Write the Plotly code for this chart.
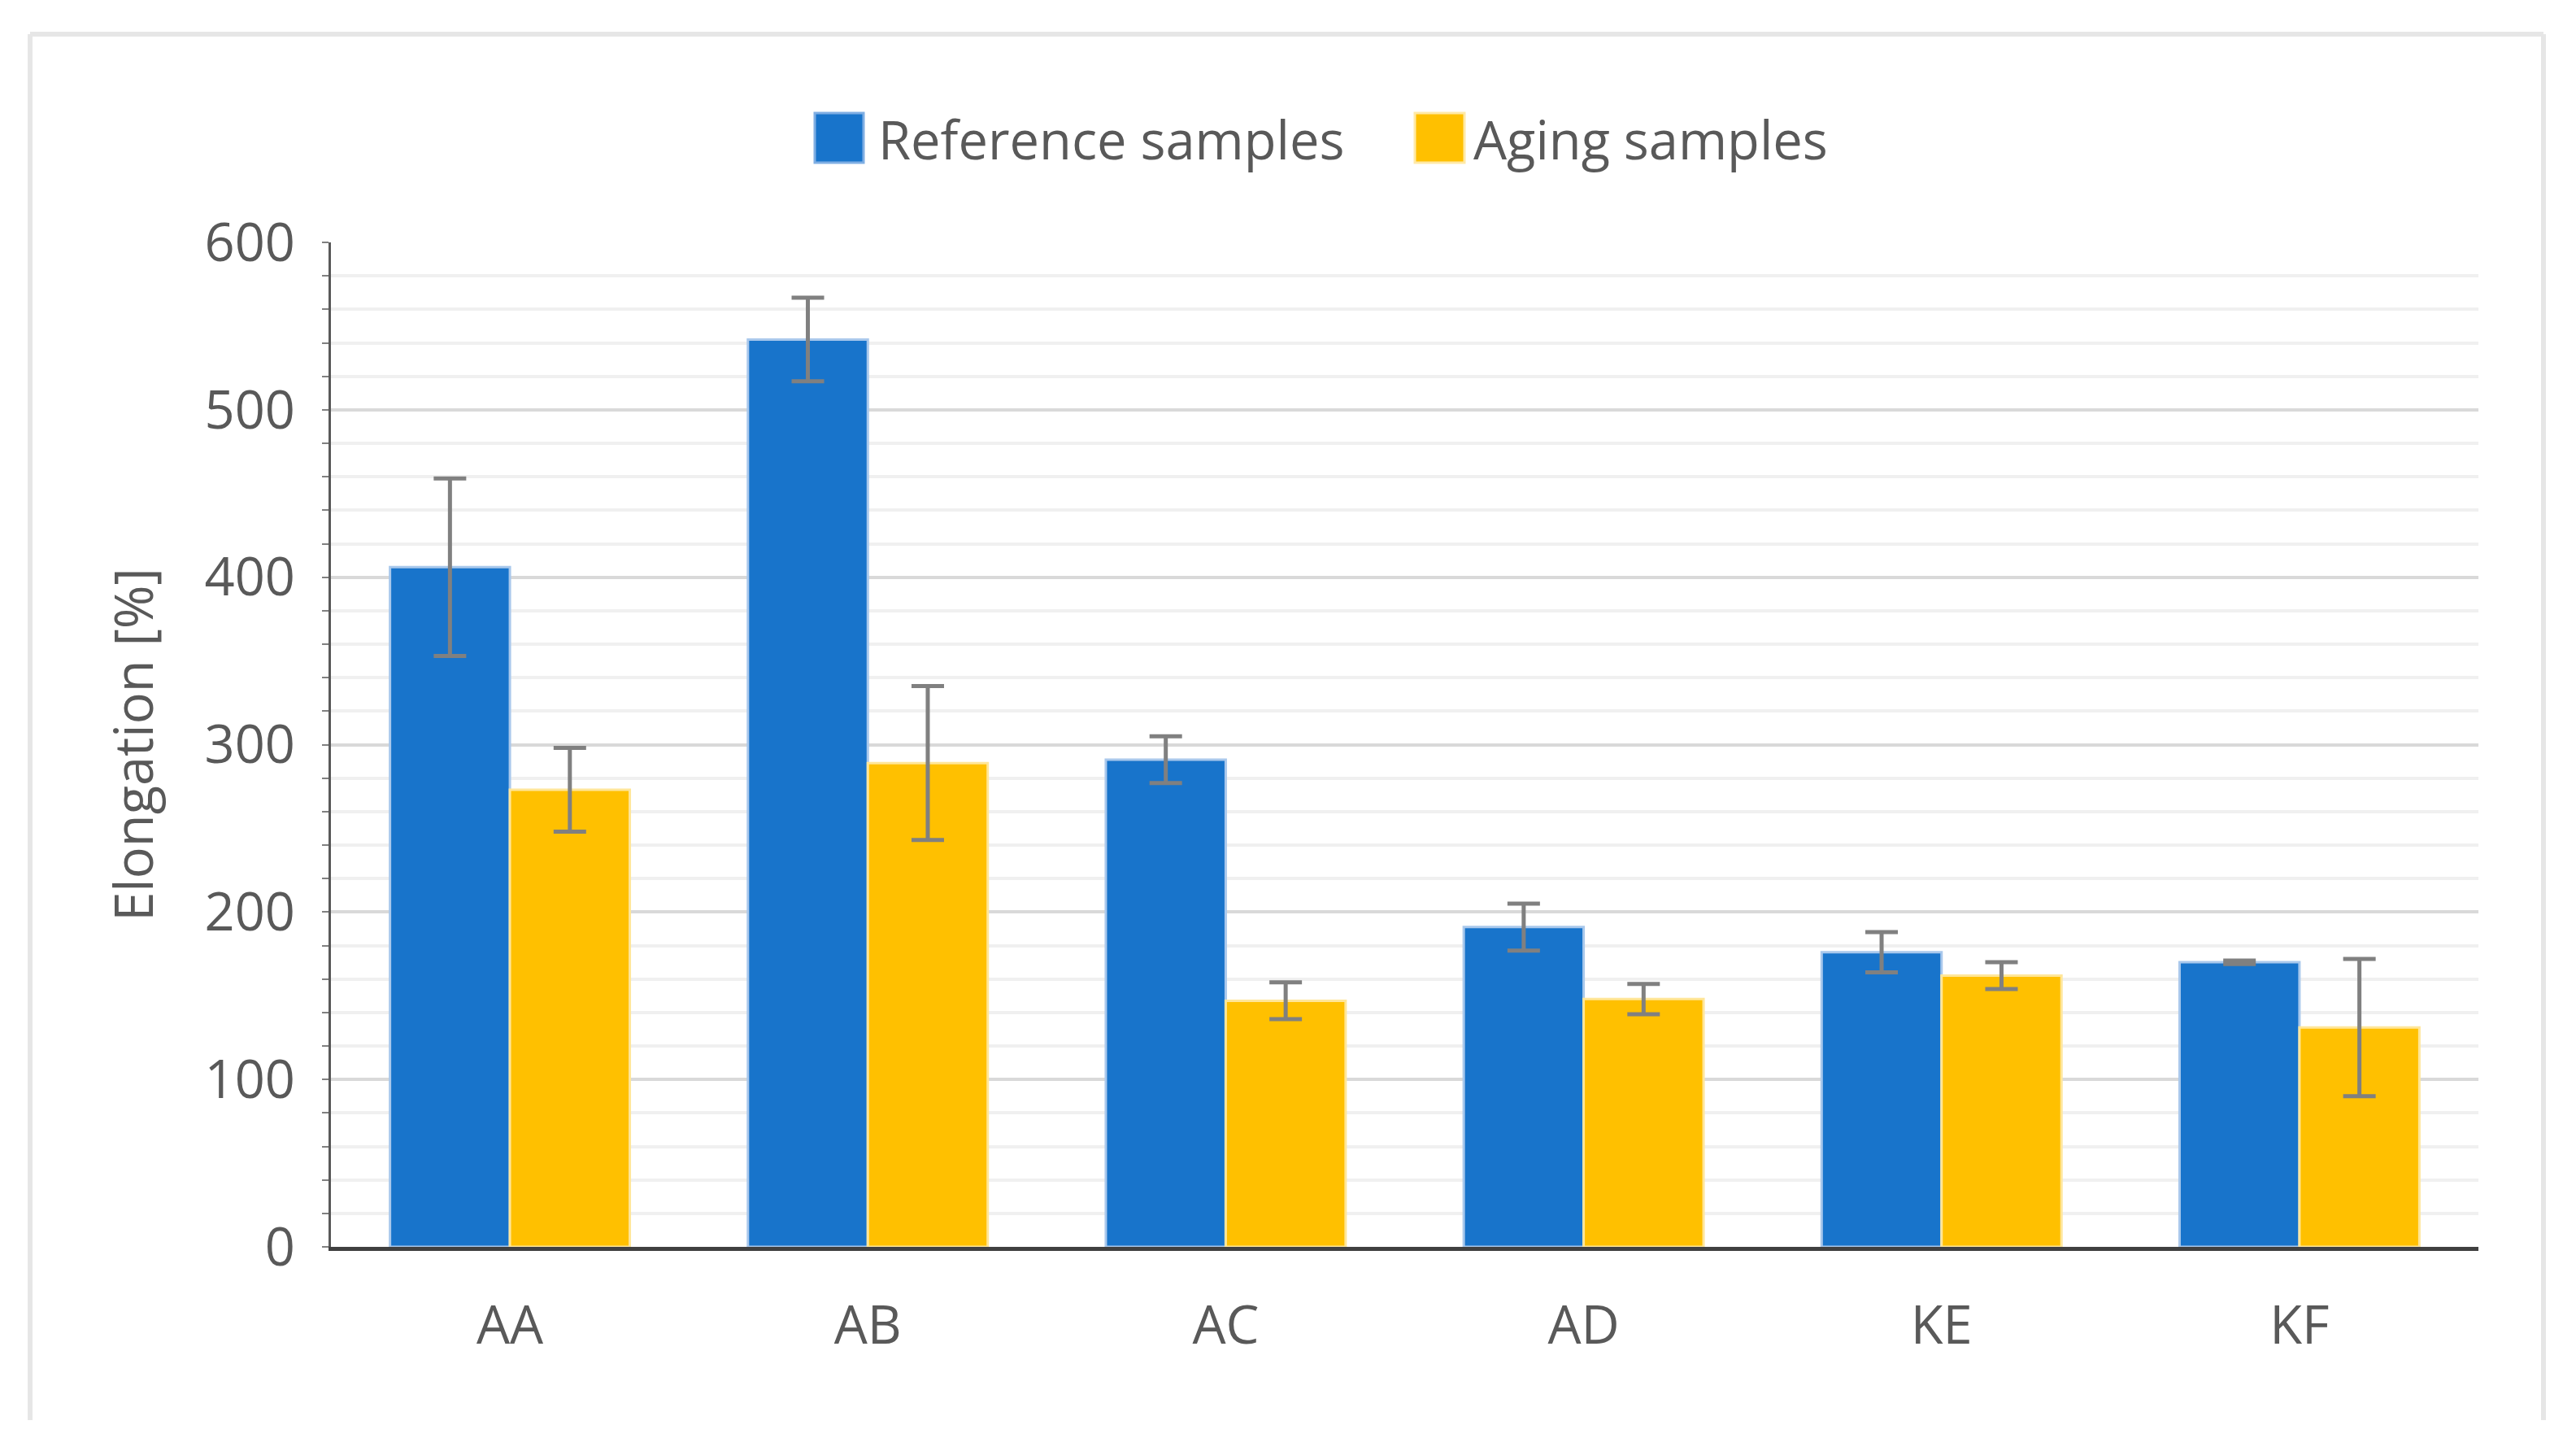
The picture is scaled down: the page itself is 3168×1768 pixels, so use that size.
import plotly.graph_objects as go

categories = ["AA", "AB", "AC", "AD", "KE", "KF"]
reference_values = [406, 542, 291, 191, 176, 170]
reference_errors = [53, 25, 14, 14, 12, 1]
aging_values = [273, 289, 147, 148, 162, 131]
aging_errors = [25, 46, 11, 9, 8, 41]
series_names = ["Reference samples", "Aging samples"]
y_ticks = [0, 100, 200, 300, 400, 500, 600]

BLUE = "#1874CB"
YELLOW = "#FFC000"
FONT = "Open Sans"
TXT = "#595959"
FS = 65

fig = go.Figure()
fig.add_trace(go.Bar(
    x=categories, y=reference_values, name=series_names[0],
    marker=dict(color=BLUE, line=dict(color="#A9C8EC", width=3)),
    error_y=dict(type="data", array=reference_errors, color="#808080", thickness=5, width=20),
    showlegend=False,
))
fig.add_trace(go.Bar(
    x=categories, y=aging_values, name=series_names[1],
    marker=dict(color=YELLOW, line=dict(color="#FFE699", width=3)),
    error_y=dict(type="data", array=aging_errors, color="#808080", thickness=5, width=20),
    showlegend=False,
))

W, H = 3168, 1768
L, R, T, B = 399, 3040, 290, 1525
pw, ph = R - L, B - T

def px(X):
    return (X - L) / pw

def py(Y):
    return (B - Y) / ph

# legend swatches and labels
legend_items = [(994, 1054, 1070, series_names[0], BLUE, "#7FAEE3"),
                (1732, 1793, 1802, series_names[1], YELLOW, "#FFE9A6")]
shapes = []
annotations = []
for x0, x1, xt, name, col, edge in legend_items:
    shapes.append(dict(type="rect", xref="paper", yref="paper", x0=px(x0), x1=px(x1),
                       y0=py(192), y1=py(131), fillcolor=col, line=dict(color=edge, width=3),
                       layer="above"))
    annotations.append(dict(xref="paper", yref="paper", x=px(xt), y=py(163), text=name,
                            showarrow=False, xanchor="left", yanchor="middle",
                            font=dict(family=FONT, size=FS, color=TXT)))
# outer frame (left, top, right)
FR = dict(color="#E6E6E6", width=6)
shapes.append(dict(type="line", xref="paper", yref="paper", x0=px(29), x1=px(29), y0=py(1738), y1=py(34), line=FR, layer="below"))
shapes.append(dict(type="line", xref="paper", yref="paper", x0=px(29), x1=px(3120), y0=py(34), y1=py(34), line=FR, layer="below"))
shapes.append(dict(type="line", xref="paper", yref="paper", x0=px(3120), x1=px(3120), y0=py(1738), y1=py(34), line=FR, layer="below"))

fig.update_layout(
    width=W, height=H,
    margin=dict(l=L, r=W - R, t=T, b=H - B, pad=0),
    paper_bgcolor="white", plot_bgcolor="white",
    barmode="group", bargap=0.33, bargroupgap=0,
    font=dict(family=FONT, color=TXT, size=FS),
    shapes=shapes, annotations=annotations,
    xaxis=dict(
        showline=True, linecolor="#404040", linewidth=5,
        ticks="", ticklabelstandoff=36,
        tickfont=dict(family=FONT, size=FS, color=TXT),
        showgrid=False,
    ),
    yaxis=dict(
        range=[0, 600], tickvals=y_ticks,
        showline=True, linecolor="#595959", linewidth=3,
        ticks="outside", ticklen=8, tickcolor="#808080", tickwidth=2,
        showgrid=True, gridcolor="#D9D9D9", gridwidth=4,
        zeroline=False,
        tickfont=dict(family=FONT, size=FS, color=TXT),
        ticklabelstandoff=20,
        minor=dict(dtick=20, showgrid=True, gridcolor="#F0F0F0", gridwidth=4,
                   ticks="outside", ticklen=8, tickcolor="#808080", tickwidth=2),
        title=dict(text="Elongation [%]", standoff=42,
                   font=dict(family=FONT, size=FS, color=TXT)),
    ),
)

fig.write_html("out.html")
